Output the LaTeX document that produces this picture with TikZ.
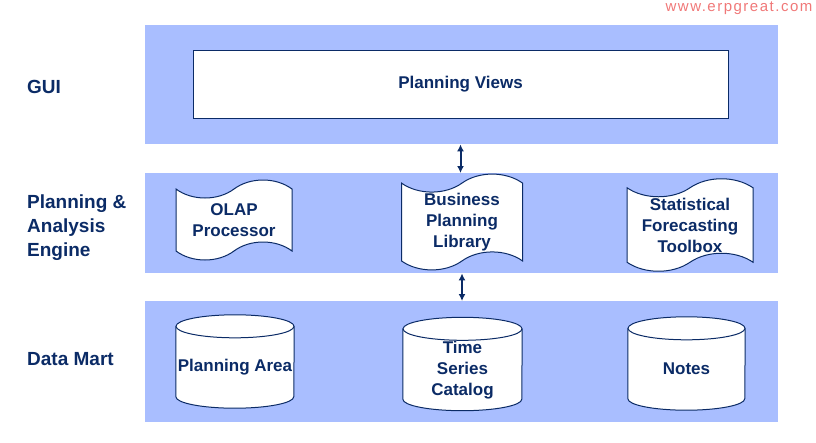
\documentclass[tikz,border=0pt]{standalone}
\usepackage{fontspec}
\setmainfont{Liberation Sans}
\usetikzlibrary{arrows.meta, positioning, shapes.symbols}
\definecolor{ERPband}{HTML}{A9BEFF}
\definecolor{ERPnavy}{HTML}{0B2B66}
\definecolor{ERPweb}{HTML}{F07878}

\begin{document}
\begin{tikzpicture}[x=1pt, y=-1pt,
    band/.style={fill=ERPband, draw=none, minimum width=633pt, anchor=north west, inner sep=0pt},
    layer/.style={text=ERPnavy, font=\fontsize{19}{24}\selectfont\bfseries, align=left, anchor=west, inner sep=0pt},
    words/.style={text=ERPnavy, font=\fontsize{17}{21}\selectfont\bfseries, align=center, inner sep=1pt},
    item/.style={words, draw=ERPnavy, line width=1pt, fill=white},
    flag/.style={item, tape, tape bend top=in and out, tape bend bottom=in and out, tape bend height=18pt, minimum width=116pt, minimum height=80pt},
    drum/.style={inner sep=0pt, minimum width=118pt, minimum height=70pt},
    tub/.style={draw=ERPnavy, line width=1pt, fill=white},
    link/.style={ERPnavy, line width=2pt, {Latex[length=7pt,width=7pt]}-{Latex[length=7pt,width=7pt]}}]
  \useasboundingbox (0,0) rectangle (816,442);

  % layer bands
  \node[band, minimum height=119pt] (guiband) at (145,25) {};
  \node[band, minimum height=100pt] (engineband) at (145,173) {};
  \node[band, minimum height=121pt] (martband) at (145,301) {};

  % layer names
  \node[layer] (gui) at (27,87) {GUI};
  \node[layer] (engine) at (27,228) {Planning \&\\Analysis\\Engine};
  \node[layer] (mart) at (27,359) {Data Mart};

  % GUI
  \node[item, minimum width=535pt, minimum height=68pt] (views) at (460.5,84) {Planning Views};

  % engine
  \node[flag] (olap) at (234,220) {OLAP\\Processor};
  \node[flag, minimum width=121pt] (library) at (462,222) {Business\\Planning\\Library};
  \node[flag, minimum width=126pt, minimum height=90pt] (toolbox) at (690,225) {Statistical\\Forecasting\\Toolbox};

  % data mart
  \node[drum] (area) at (235,361.5) {};
  \node[drum, minimum width=119pt] (series) at (462.5,364) {};
  \node[drum, minimum width=117pt] (notes) at (686.5,363.5) {};
  \foreach \store/\r in {area/59, series/59.5, notes/58.5} {
    \filldraw[tub] (\store.north west) -- (\store.south west)
      arc[start angle=180, end angle=0, x radius=\r, y radius=11.5] -- (\store.north east);
    \filldraw[tub] (\store.north) ellipse[x radius=\r, y radius=11.5];
  }
  \node[words] (areatext) at ([yshift=-6pt]area.center) {Planning Area};
  \node[words] (seriestext) at ([yshift=-6pt]series.center) {Time\\Series\\Catalog};
  \node[words] (notestext) at ([yshift=-5pt]notes.center) {Notes};

  % links between layers
  \draw[link] (guiband.south -| views.center) -- (engineband.north -| views.center);
  \draw[link] (engineband.south -| library.center) -- (martband.north -| library.center);

  \node[text=ERPweb, font=\fontsize{15}{15}\selectfont\addfontfeatures{LetterSpace=10}] (web) at (739,8) {www.erpgreat.com};
\end{tikzpicture}
\end{document}
